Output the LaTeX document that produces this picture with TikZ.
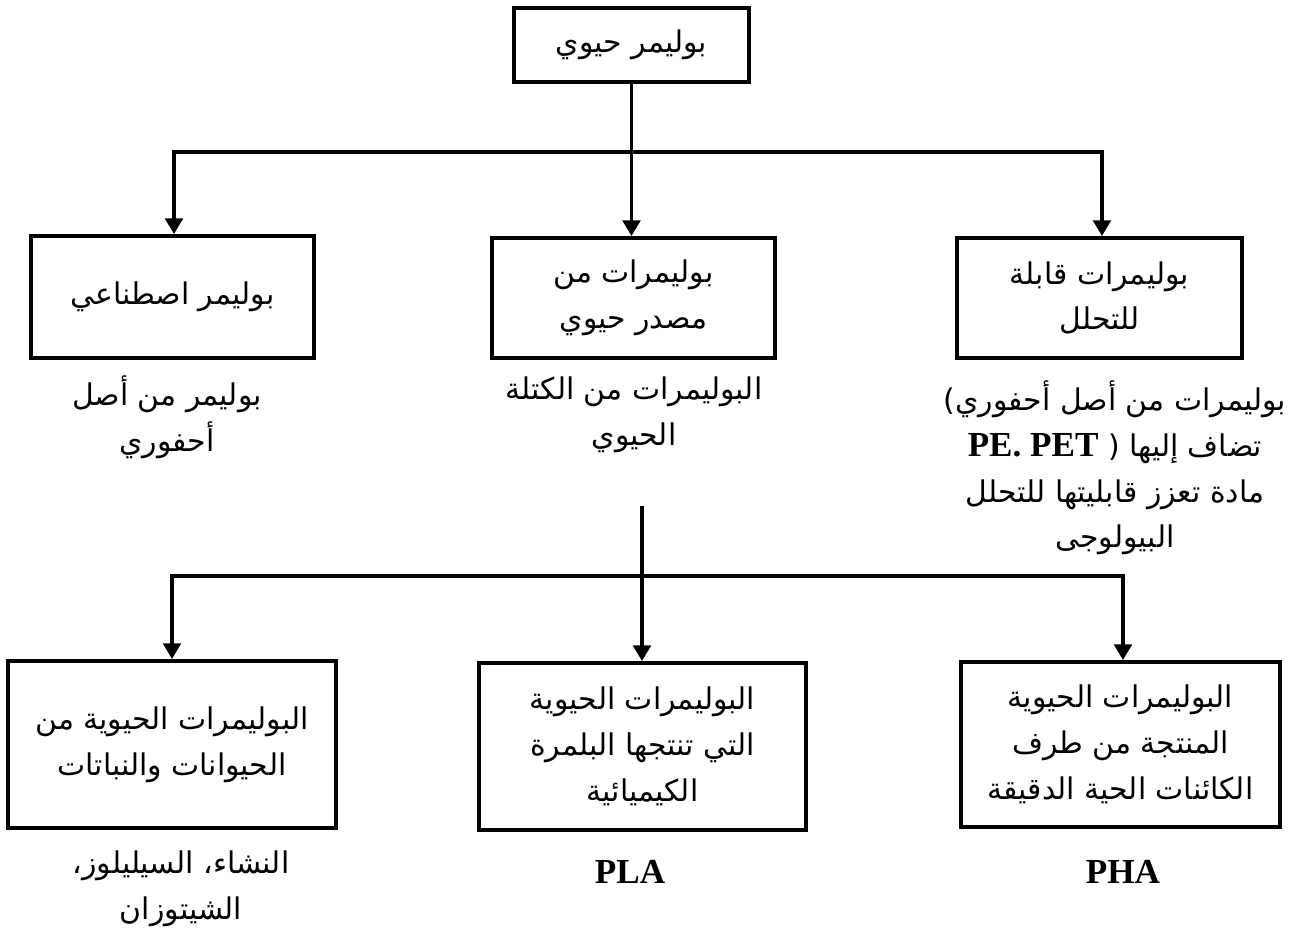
\documentclass[tikz,border=0pt]{standalone}
\usepackage{fontspec}
\setmainfont{Liberation Serif}
\newfontfamily\arabicfont[Script=Arabic]{DejaVu Sans}
\TeXXeTstate=1
\usetikzlibrary{arrows.meta}

\begin{document}
\begin{tikzpicture}[
  x=0.02cm,
  y=-0.02cm,
  every node/.style={font=\arabicfont\fontsize{17}{26}\selectfont, align=center, inner sep=0pt},
  classbox/.style={draw, line width=2.2pt, rectangle},
  branch/.style={line width=2.2pt},
  feed/.style={line width=2.2pt, -{Triangle[length=9pt, width=10pt]}},
  latinlab/.style={font=\rmfamily\bfseries\fontsize{20}{26}\selectfont}
]
  % ---- common bounding box ----
  \path (0,0) rectangle (1296,931);

  % ---- root ----
  \node[classbox, minimum width=4.70cm, minimum height=1.48cm] (bio) at (631.5,45)
    {\beginR بوليمر حيوي\endR};

  % ---- first level ----
  \node[classbox, minimum width=5.66cm, minimum height=2.44cm] (synth) at (172.5,297)
    {\beginR بوليمر اصطناعي\endR};
  \node[classbox, minimum width=5.66cm, minimum height=2.40cm] (biosrc) at (633.5,298)
    {\beginR بوليمرات من\endR\\\beginR مصدر حيوي\endR};
  \node[classbox, minimum width=5.70cm, minimum height=2.40cm] (degr) at (1099.5,298)
    {\beginR بوليمرات قابلة\endR\\\beginR للتحلل\endR};

  % ---- notes under the first level ----
  \node (synthnote) at (167,417)
    {\beginR بوليمر من أصل\endR\\\beginR أحفوري\endR};
  \node (biosrcnote) at (634,415)
    {\beginR البوليمرات من الكتلة\endR\\\beginR الحيوي\endR};
  \node (degrnote) at (1115,468)
    {)\beginR بوليمرات من أصل أحفوري\endR\\
     {\rmfamily\bfseries\fontsize{20}{26}\selectfont PE. PET}~(~\beginR تضاف إليها\endR\\
     \beginR مادة تعزز قابليتها للتحلل\endR\\
     \beginR البيولوجى\endR};

  % ---- second level ----
  \node[classbox, minimum width=6.56cm, minimum height=3.34cm] (animal) at (172,744.5)
    {\beginR البوليمرات الحيوية من\endR\\\beginR الحيوانات والنباتات\endR};
  \node[classbox, minimum width=6.54cm, minimum height=3.34cm] (chem) at (642.5,746.5)
    {\beginR البوليمرات الحيوية\endR\\\beginR التي تنتجها البلمرة\endR\\\beginR الكيميائية\endR};
  \node[classbox, minimum width=6.38cm, minimum height=3.30cm] (microb) at (1120.5,744.5)
    {\beginR البوليمرات الحيوية\endR\\\beginR المنتجة من طرف\endR\\\beginR الكائنات الحية الدقيقة\endR};

  % ---- notes under the second level ----
  \node (animalnote) at (181,889)
    {\beginR النشاء، السيليلوز،\endR\\\beginR الشيتوزان\endR};
  \node[latinlab] (plalab) at (630,872) {PLA};
  \node[latinlab] (phalab) at (1123,872) {PHA};

  % ---- upper connectors ----
  \coordinate (split)  at (631.5,152);
  \coordinate (splitl) at (174,152);
  \coordinate (splitr) at (1102,152);
  \draw[branch] (bio.south) -- (split);
  \draw[branch, line cap=rect] (splitl) -- (splitr);
  \draw[feed] (splitl) -- (splitl |- synth.north);
  \draw[feed] (split) -- (split |- biosrc.north);
  \draw[feed] (splitr) -- (splitr |- degr.north);

  % ---- lower connectors ----
  \coordinate (lowtop) at (642,506);
  \coordinate (lowjoin) at (642,576);
  \coordinate (lowl) at (172,576);
  \coordinate (lowr) at (1123,576);
  \draw[branch] (lowtop) -- (lowjoin);
  \draw[branch, line cap=rect] (lowl) -- (lowr);
  \draw[feed] (lowl) -- (lowl |- animal.north);
  \draw[feed] (lowjoin) -- (lowjoin |- chem.north);
  \draw[feed] (lowr) -- (lowr |- microb.north);
\end{tikzpicture}
\end{document}
